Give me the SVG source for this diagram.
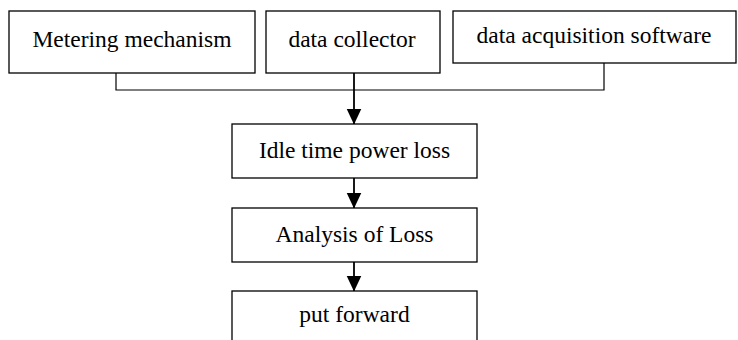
<svg xmlns="http://www.w3.org/2000/svg" width="738" height="340" viewBox="0 0 738 340">
  <style>
    .box { fill: #fff; stroke: #000; stroke-width: 1.3; }
    .lbl { font-family: "Liberation Serif", "Times New Roman", serif; font-size: 23.5px; fill: #000; text-anchor: middle; }
    .wire { fill: none; stroke: #000; stroke-width: 1.2; }
    .flow { fill: none; stroke: #000; stroke-width: 1.8; }
  </style>
  <defs>
    <marker id="arrow" markerUnits="userSpaceOnUse" markerWidth="16" markerHeight="17" refX="15.5" refY="7.5" orient="auto">
      <path d="M0,0 L16,7.5 L0,15 Z" fill="#000"/>
    </marker>
  </defs>
  <rect width="738" height="340" fill="#fff"/>

  <g id="connectors">
    <polyline class="wire" points="116,73 116,90 604,90 604,63"/>
    <line class="flow" x1="354" y1="73" x2="354" y2="124" marker-end="url(#arrow)"/>
    <line class="flow" x1="354" y1="178" x2="354" y2="208" marker-end="url(#arrow)"/>
    <line class="flow" x1="354" y1="262" x2="354" y2="291" marker-end="url(#arrow)"/>
  </g>

  <g id="metering">
    <rect class="box" x="9" y="11" width="246" height="62"/>
    <text class="lbl" x="132" y="47">Metering mechanism</text>
  </g>
  <g id="collector">
    <rect class="box" x="266" y="11" width="174" height="62"/>
    <text class="lbl" x="352" y="47">data collector</text>
  </g>
  <g id="software">
    <rect class="box" x="453" y="11" width="283" height="52"/>
    <text class="lbl" x="594" y="43">data acquisition software</text>
  </g>
  <g id="idle-loss">
    <rect class="box" x="232" y="124" width="245" height="54"/>
    <text class="lbl" x="354.5" y="158">Idle time power loss</text>
  </g>
  <g id="analysis">
    <rect class="box" x="232" y="208" width="245" height="54"/>
    <text class="lbl" x="354.5" y="242">Analysis of Loss</text>
  </g>
  <g id="put-forward">
    <rect class="box" x="232" y="291" width="245" height="60"/>
    <text class="lbl" x="354.5" y="322">put forward</text>
  </g>
</svg>
